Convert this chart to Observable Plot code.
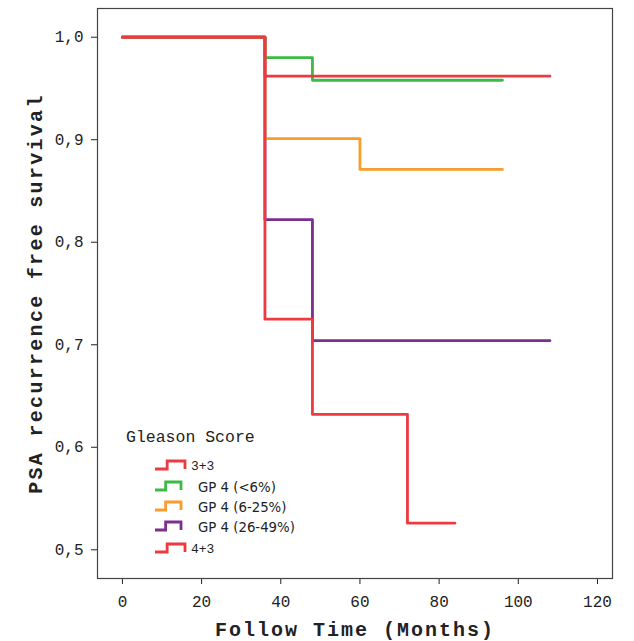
<!DOCTYPE html>
<html><head><meta charset="utf-8">
<script src="https://cdn.jsdelivr.net/npm/d3@7"></script>
<script src="https://cdn.jsdelivr.net/npm/@observablehq/plot@0.6"></script>
<style>
body{margin:0;background:#fff}
#wrap{position:relative;width:634px;height:641px;overflow:hidden}
#legend{position:absolute;left:0;top:0;width:634px;height:641px;pointer-events:none}
.lt{position:absolute;font-family:"Liberation Mono",monospace;font-size:16.5px;color:#222;white-space:nowrap}
.li{position:absolute;color:#222;white-space:nowrap;line-height:15px}
.li.mono{font-family:"Liberation Mono",monospace;font-size:13px}
.li.sans{font-family:"DejaVu Sans",sans-serif;font-size:13.3px}
.ic{position:absolute}
g[aria-label="x-axis label"] text{font-weight:bold;font-size:20px;letter-spacing:2px}
g[aria-label="y-axis label"] text{font-weight:bold;font-size:20px;letter-spacing:2.3px}
</style>
</head><body>
<div id="wrap"></div>
<script>
// Series names and colours
const seriesNames = ["3+3", "GP 4 (<6%)", "GP 4 (6-25%)", "GP 4 (26-49%)", "4+3"];
const seriesColors = ["#ec3b40", "#3cba44", "#f89c2c", "#7b2f8e", "#ec3b40"];
// Step times (months) and survival values per series
const time_33 = [0, 36, 108];
const surv_33 = [1.0, 0.962, 0.962];
const time_lt6 = [0, 36, 48, 96];
const surv_lt6 = [1.0, 0.980, 0.958, 0.958];
const time_6_25 = [0, 36, 60, 96];
const surv_6_25 = [1.0, 0.901, 0.871, 0.871];
const time_26_49 = [0, 36, 48, 108];
const surv_26_49 = [1.0, 0.822, 0.704, 0.704];
const time_43 = [0, 36, 48, 72, 84];
const surv_43 = [1.0, 0.725, 0.632, 0.526, 0.526];
// Axis ticks
const xTicks = [0, 20, 40, 60, 80, 100, 120];
const yTicks = [0.5, 0.6, 0.7, 0.8, 0.9, 1.0];

const seriesTimes = [time_33, time_lt6, time_6_25, time_26_49, time_43];
const seriesSurv = [surv_33, surv_lt6, surv_6_25, surv_26_49, surv_43];
const rows = [];
// draw order: purple, orange, green, then reds on top
const order = [3, 2, 1, 4, 0];
for (const i of order) {
  seriesTimes[i].forEach((t, j) => rows.push({series: seriesNames[i], idx: i, t, s: seriesSurv[i][j]}));
}

const fmt = d => d.toFixed(1).replace(".", ",");

const chart = Plot.plot({
  width: 634,
  height: 641,
  marginLeft: 97,
  marginRight: 22,
  marginTop: 8,
  marginBottom: 63,
  style: {fontFamily: "'Liberation Mono', monospace", fontSize: "16px", color: "#222", background: "#fff"},
  x: {domain: [-6.3, 123.8], ticks: xTicks, tickSize: 6, tickPadding: 11, label: "Follow Time (Months)", labelAnchor: "center", labelOffset: 57, labelArrow: "none"},
  y: {domain: [0.472, 1.028], ticks: yTicks, tickFormat: fmt, tickSize: 6, tickPadding: 8, label: "PSA recurrence free survival", labelAnchor: "center", labelOffset: 70, labelArrow: "none"},
  marks: [
    Plot.frame({stroke: "#444", strokeWidth: 1.2}),
    Plot.line(rows, {x: "t", y: "s", z: "idx", stroke: d => seriesColors[d.idx], strokeWidth: 2.8, curve: "step-after"})
  ]
});
document.getElementById("wrap").appendChild(chart);

// Legend overlay
const legend = document.createElement("div");
legend.id = "legend";
const title = document.createElement("div");
title.className = "lt";
title.textContent = "Gleason Score";
title.style.left = "126px"; title.style.top = "428px";
legend.appendChild(title);
const itemY = [465, 486, 506, 526, 548];
const labelX = [191, 198, 198, 198, 191];
const iconW = [32, 28, 28, 28, 32];
seriesNames.forEach((name, i) => {
  const ns = "http://www.w3.org/2000/svg";
  const svg = document.createElementNS(ns, "svg");
  svg.setAttribute("class", "ic");
  svg.setAttribute("width", 36); svg.setAttribute("height", 14);
  svg.style.left = "153px"; svg.style.top = (itemY[i] - 7) + "px";
  const w = iconW[i];
  const p = document.createElementNS(ns, "path");
  p.setAttribute("d", `M2,11 H${2 + w * 0.38} V3 H${w} V11`);
  p.setAttribute("fill", "none");
  p.setAttribute("stroke", seriesColors[i]);
  p.setAttribute("stroke-width", 2.8);
  svg.appendChild(p);
  legend.appendChild(svg);
  const lab = document.createElement("div");
  lab.className = "li " + (i === 0 || i === 4 ? "mono" : "sans");
  lab.textContent = name;
  lab.style.left = labelX[i] + "px";
  lab.style.top = (itemY[i] - 6) + "px";
  legend.appendChild(lab);
});
document.getElementById("wrap").appendChild(legend);
</script>
</body></html>
